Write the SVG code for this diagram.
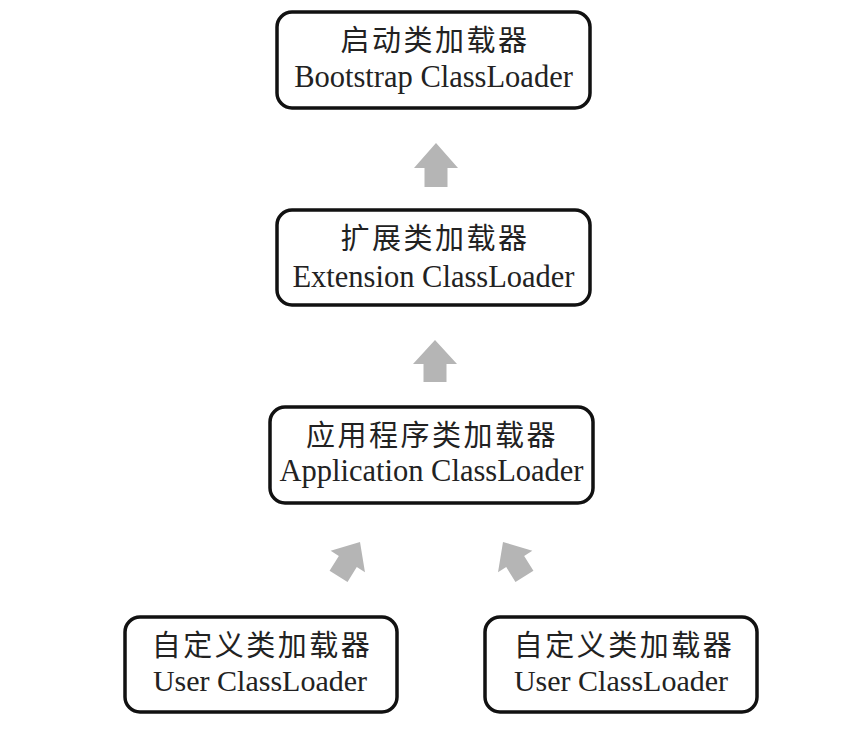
<svg xmlns="http://www.w3.org/2000/svg" width="868" height="746" viewBox="0 0 868 746">
<style>
.box{fill:#fff;stroke:#111;stroke-width:3.5}
.zh{font-family:"Liberation Serif","Noto Sans CJK SC",serif;font-size:29px;letter-spacing:2.5px;fill:#222;text-anchor:middle}
.en{font-family:"Liberation Serif",serif;font-size:30.5px;fill:#222;text-anchor:middle}
.arrow{fill:#b5b5b5}
</style>
<defs>
<path id="up" d="M0,0 L22,25 L11.5,25 L11.5,44 L-11.5,44 L-11.5,25 L-22,25 Z"/>
</defs>
<rect width="868" height="746" fill="#fff"/>
<g id="connectors" class="arrow">
<use href="#up" transform="translate(436,143)"/>
<use href="#up" transform="translate(435,340) scale(1,0.955)"/>
<use href="#up" transform="translate(360,542) rotate(32) scale(0.92)"/>
<use href="#up" transform="translate(503,542) rotate(-32) scale(0.92)"/>
</g>
<g id="bootstrap">
<rect class="box" x="277" y="12" width="313" height="96" rx="15"/>
<text class="zh" x="435" y="51">启动类加载器</text>
<text class="en" x="433.5" y="87">Bootstrap ClassLoader</text>
</g>
<g id="extension">
<rect class="box" x="277" y="210" width="313" height="95" rx="15"/>
<text class="zh" x="435" y="249">扩展类加载器</text>
<text class="en" x="433.5" y="287">Extension ClassLoader</text>
</g>
<g id="application">
<rect class="box" x="270" y="407" width="323" height="96" rx="15"/>
<text class="zh" x="432" y="446">应用程序类加载器</text>
<text class="en" x="431.5" y="481">Application ClassLoader</text>
</g>
<g id="user1">
<rect class="box" x="125" y="617" width="272" height="95" rx="15"/>
<text class="zh" x="262" y="656">自定义类加载器</text>
<text class="en" x="260" y="691" style="font-size:30px">User ClassLoader</text>
</g>
<g id="user2">
<rect class="box" x="485" y="617" width="272" height="95" rx="15"/>
<text class="zh" x="624" y="656">自定义类加载器</text>
<text class="en" x="621" y="691" style="font-size:30px">User ClassLoader</text>
</g>
</svg>
